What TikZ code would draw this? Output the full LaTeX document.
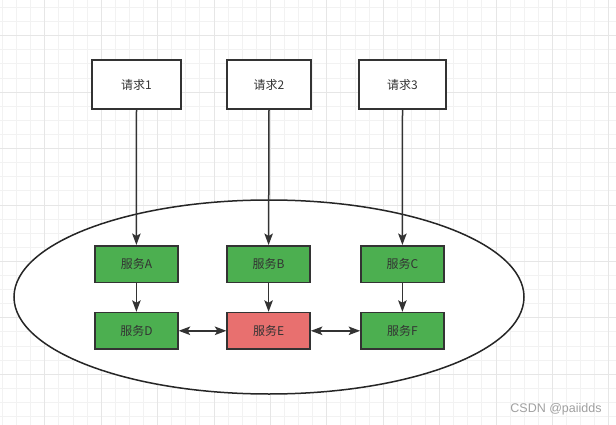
\documentclass[tikz,border=0pt]{standalone}
\usepackage{fontspec}
\newfontfamily\cjk{Noto Sans CJK SC}
\newfontfamily\wmfont{Liberation Sans}
\usetikzlibrary{arrows.meta}
\definecolor{lineC}{HTML}{333333}
\definecolor{txtC}{HTML}{333333}
\definecolor{svcgreen}{HTML}{4CAF50}
\definecolor{svcred}{HTML}{E8706F}
\definecolor{gridminor}{HTML}{F2F2F2}
\definecolor{gridmajor}{HTML}{E6E6E6}
\definecolor{wmgray}{HTML}{A0A0A0}
\begin{document}
\begin{tikzpicture}[x=1pt,y=-1pt,
  reqbox/.style={draw=lineC, line width=1.5pt, fill=white, minimum height=49pt,
    inner sep=0pt, font=\cjk\fontsize{12}{14}\selectfont, text=txtC},
  svcbox/.style={draw=lineC, line width=1.5pt, minimum width=83pt, minimum height=36.5pt,
    inner sep=0pt, font=\cjk\fontsize{12}{14}\selectfont, text=txtC},
  tip/.tip={Stealth[length=11.5pt,width=8.5pt,inset=2.5pt]},
  flow/.style={draw=lineC, line width=1.5pt, -tip},
  bidir/.style={draw=lineC, line width=1.5pt, tip-tip},
  gminor/.style={draw=gridminor, line width=1pt},
  gmajor/.style={draw=gridmajor, line width=1pt}
]
\useasboundingbox (0,0) rectangle (616,425);
\fill[white] (0,0) rectangle (616,425);
% grid
\foreach \i in {0,...,43} { \draw[gminor] ({2.5+14.1*\i},0) -- ({2.5+14.1*\i},425); }
\foreach \i in {0,...,29} { \draw[gminor] (0,{7.6+14.1*\i}) -- (616,{7.6+14.1*\i}); }
\foreach \j in {0,...,10} { \draw[gmajor] ({44.8+56.4*\j},0) -- ({44.8+56.4*\j},425); }
\foreach \j in {0,...,6} { \draw[gmajor] (0,{35.8+56.4*\j}) -- (616,{35.8+56.4*\j}); }
% ellipse
\path[draw=black!85, line width=1.5pt, fill=white] (269,297) ellipse [x radius=255, y radius=97];
% request boxes
\node[reqbox, minimum width=89pt] (r1) at (136.5,84.5) {请求1};
\node[reqbox, minimum width=84pt] (r2) at (269,84.5) {请求2};
\node[reqbox, minimum width=87pt] (r3) at (402.5,84.5) {请求3};
% service boxes
\node[svcbox, fill=svcgreen] (sa) at (136.4,264) {服务A};
\node[svcbox, fill=svcgreen] (sb) at (268.6,264) {服务B};
\node[svcbox, fill=svcgreen] (sc) at (402.4,264) {服务C};
\node[svcbox, fill=svcgreen] (sd) at (136.4,330.8) {服务D};
\node[svcbox, fill=svcred] (se) at (268.6,330.8) {服务E};
\node[svcbox, fill=svcgreen] (sf) at (402.4,330.8) {服务F};
% connectors
\draw[flow] (r1.south) -- (sa.north);
\draw[flow] (r2.south) -- (sb.north);
\draw[flow] (r3.south) -- (sc.north);
\draw[flow] (sa.south) -- (sd.north);
\draw[flow] (sb.south) -- (se.north);
\draw[flow] (sc.south) -- (sf.north);
\draw[bidir] (sd.east) -- (se.west);
\draw[bidir] (se.east) -- (sf.west);
% watermark
\node[font=\wmfont\fontsize{12.5}{14}\selectfont, text=wmgray, inner sep=0pt] (wm) at (556,409) {CSDN @paiidds};
\end{tikzpicture}
\end{document}
